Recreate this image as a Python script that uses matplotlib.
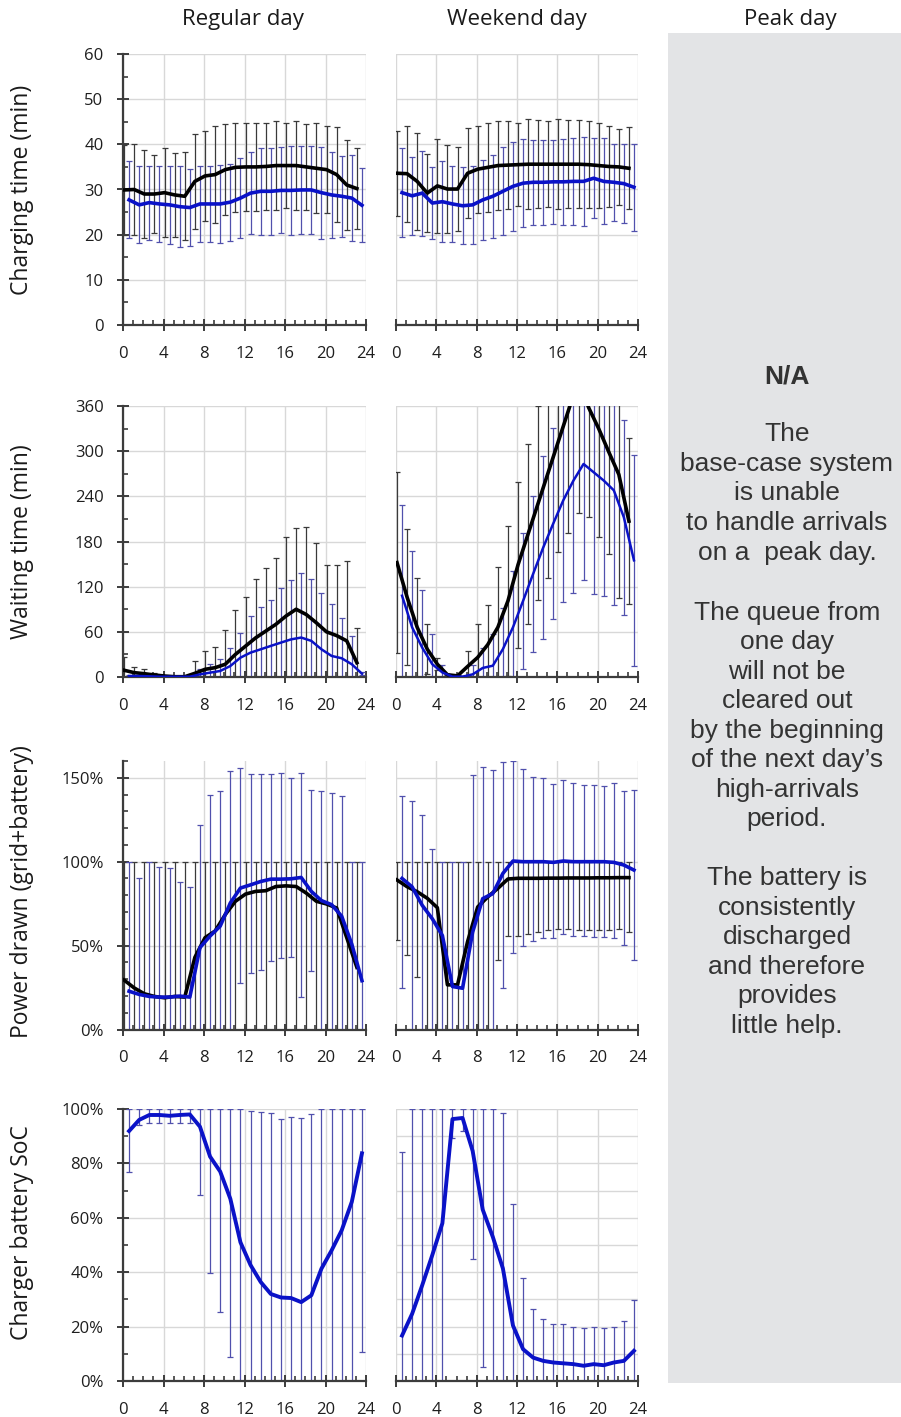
import numpy as np
import matplotlib
matplotlib.use('Agg')
import matplotlib.pyplot as plt
from matplotlib.ticker import MultipleLocator, FuncFormatter
from matplotlib.patches import Rectangle

hours = np.arange(24)

# charging time (min) - mean and std, black = grid only, blue = grid+battery
chg_reg_black = [29.9, 30.0, 29.0, 29.0, 29.3, 28.8, 28.5, 31.8, 33.0, 33.3, 34.4, 34.9,
                 35.0, 35.0, 35.1, 35.3, 35.3, 35.3, 35.0, 34.7, 34.4, 33.3, 31.0, 30.2]
chg_reg_black_sd = [10.0, 10.0, 9.8, 8.7, 9.9, 9.3, 9.7, 10.5, 10.0, 10.7, 10.0, 9.8,
                    9.7, 9.7, 9.6, 9.8, 9.5, 9.8, 9.5, 10.0, 9.7, 10.5, 10.0, 9.0]
chg_reg_blue = [27.7, 26.6, 27.1, 26.8, 26.6, 26.2, 26.0, 26.8, 26.8, 26.8, 27.2, 28.1,
                29.2, 29.6, 29.6, 29.8, 29.8, 29.9, 29.9, 29.3, 28.8, 28.5, 28.1, 26.5]
chg_reg_blue_sd = [8.5, 8.5, 8.2, 8.5, 8.7, 9.0, 8.5, 8.5, 8.5, 8.7, 8.5, 8.9,
                   9.0, 9.6, 9.6, 9.5, 9.9, 9.7, 9.7, 10.2, 9.6, 9.0, 9.6, 8.2]

chg_wkd_black = [33.6, 33.5, 31.8, 29.2, 30.8, 30.1, 30.1, 33.6, 34.5, 34.9, 35.3, 35.4,
                 35.5, 35.6, 35.6, 35.6, 35.6, 35.6, 35.6, 35.5, 35.3, 35.1, 35.0, 34.7]
chg_wkd_black_sd = [9.4, 10.6, 10.8, 8.6, 10.4, 9.8, 9.2, 10.0, 9.6, 9.8, 9.8, 9.7,
                    9.2, 9.9, 9.7, 9.5, 9.9, 9.7, 9.7, 9.6, 9.4, 9.0, 8.4, 9.1]
chg_wkd_blue = [29.3, 28.6, 29.2, 27.0, 27.3, 26.8, 26.4, 26.6, 27.7, 28.5, 29.6, 30.7,
                31.4, 31.6, 31.6, 31.7, 31.7, 31.8, 31.8, 32.5, 31.8, 31.6, 31.3, 30.5]
chg_wkd_blue_sd = [9.9, 8.7, 9.4, 7.9, 8.9, 8.5, 8.5, 8.7, 8.9, 9.2, 9.7, 9.9,
                   9.8, 9.4, 9.4, 9.3, 9.5, 9.7, 9.8, 8.8, 9.5, 8.5, 8.8, 9.6]

# waiting time (min)
wait_reg_black = [9.0, 5.8, 4.4, 2.7, 1.3, 0.4, 0.4, 4.9, 10.2, 12.4, 16.9, 30.0,
                  41.0, 52.0, 61.0, 70.0, 81.0, 90.0, 83.0, 72.0, 60.0, 55.0, 48.0, 19.0]
wait_reg_black_sd = [17, 7, 5.6, 3, 0.5, 0, 0, 17, 25, 27, 46, 59,
                     65, 78, 84, 88, 105, 108, 116, 106, 89, 94, 106, 46]
wait_reg_blue = [1.3, 1.3, 0.9, 0.4, 0.4, 0.4, 0.4, 3.5, 5.8, 8.0, 14.6, 25.7,
                 32.4, 36.8, 41.3, 45.7, 50.0, 52.4, 48.0, 36.8, 28.0, 24.9, 16.9, 4.4]
wait_reg_blue_sd = [2, 2, 1, 0.5, 0.5, 0.5, 0.5, 6.5, 11, 15.5, 24, 33,
                    48, 56, 61, 72, 79, 86, 82, 75, 69, 54, 38, 2]

wait_wkd_black = [152, 106, 66, 37, 17, 3, 1.5, 14, 26, 43, 66, 101,
                  149, 190, 231, 272, 313, 354, 395, 358, 330, 299, 269, 207]
wait_wkd_black_sd = [120, 90, 66, 33, 8, 1, 1, 20, 45, 53, 80, 100,
                     110, 120, 129, 140, 147, 163, 177, 146, 144, 136, 164, 110]
wait_wkd_blue = [108, 66, 39, 17, 6, 0.5, 0.5, 3.5, 12, 15, 37, 66,
                 101, 137, 172, 204, 235, 261, 283, 272, 261, 248, 212, 155]
wait_wkd_blue_sd = [120, 101, 77, 40, 10, 0.5, 1, 13, 26, 42, 55, 75,
                    90, 104, 122, 127, 136, 149, 154, 162, 154, 153, 130, 140]

# power drawn (%), mean with lower / upper bar ends
pow_reg_black = [29.5, 24.8, 21.3, 19.7, 18.9, 19.7, 19.3, 43.0, 54.7, 58.7, 68.5, 76.4,
                 80.7, 82.3, 82.7, 85.2, 85.6, 85.2, 81.3, 76.4, 74.8, 72.4, 54.7, 37.0]
pow_reg_black_lo = [0] * 24
pow_reg_black_hi = [100] * 24
pow_reg_blue = [22.8, 20.9, 19.7, 19.3, 19.3, 19.9, 19.3, 48.8, 55.7, 61.6, 75.4, 84.3,
                86.2, 88.2, 89.6, 89.6, 89.8, 90.6, 82.3, 76.8, 74.4, 67.5, 50.8, 29.1]
pow_reg_blue_lo = [0, 0, 0, 0, 0, 0, 0, 0, 0, 0, 0, 27.5,
                   33.5, 35.4, 41, 42.9, 43.5, 19.3, 35, 0, 0, 0, 0, 0]
pow_reg_blue_hi = [100, 90, 100, 97, 96, 88, 85, 122, 140, 142, 154, 156,
                   152, 152, 152, 152.6, 150, 152.6, 143, 142, 141, 139, 100, 100]

pow_wkd_black = [89.1, 85.1, 82.1, 78.2, 72.6, 26.6, 26.6, 52.4, 73.0, 79.0, 84.1, 89.7,
                 90.1, 90.1, 90.1, 90.2, 90.2, 90.3, 90.3, 90.3, 90.4, 90.4, 90.5, 90.5]
pow_wkd_black_lo = [53.4, 44.4, 31.0, 0, 0, 0, 0, 0, 0, 0, 41.5, 56,
                    56, 57, 58, 59, 60, 60, 59, 59, 59, 59, 60, 58]
pow_wkd_black_hi = [100] * 24
pow_wkd_blue = [90, 85, 74, 66, 56, 25.6, 24.6, 58, 78, 81, 93, 100.4,
                100, 100, 100, 99.6, 100.4, 100, 100, 100, 100, 99.6, 98, 95]
pow_wkd_blue_lo = [24.6, 0, 0, 0, 0, 0, 0, 0, 0, 0, 24.6, 45.4,
                   50, 52.8, 54.8, 54.8, 57, 56, 56, 55, 55, 54.8, 50.4, 41.5]
pow_wkd_blue_hi = [139, 136, 128, 107.5, 100, 100, 100, 151.6, 156.5, 154.6, 159.5, 160,
                   155, 150.6, 150, 146, 148.6, 146.6, 145.6, 145.6, 145, 146.6, 142, 143]

# charger battery state of charge (%)
soc_reg = [91.9, 96.0, 97.8, 97.8, 97.5, 97.8, 98.0, 93.5, 82.5, 77.0, 67.0, 51.0,
           42.6, 36.4, 32.0, 30.7, 30.5, 29.0, 31.5, 41.3, 48.0, 55.4, 65.9, 83.7]
soc_reg_lo = [76.7, 94, 95, 95, 95, 95, 95, 68.3, 39.8, 25.4, 8.8, 0,
              0, 0, 0, 0, 0, 0, 0, 0, 0, 0, 0, 10.7]
soc_reg_hi = [100, 100, 100, 100, 100, 100, 100, 100, 100, 100, 100, 100,
              99.3, 99.0, 98.4, 96.3, 97.2, 96.6, 98.0, 100, 100, 100, 100, 100]

soc_wkd = [16.7, 24.7, 35.2, 46.3, 58.0, 96.3, 96.7, 84.6, 63.0, 53.0, 41.4, 20.4,
           11.7, 8.6, 7.4, 6.8, 6.5, 6.2, 5.6, 6.2, 5.8, 6.8, 7.4, 11.1]
soc_wkd_lo = [0, 0, 0, 0, 0, 89.5, 92.0, 44.8, 5.3, 0, 0, 0,
              0, 0, 0, 0, 0, 0, 0, 0, 0, 0, 0, 0]
soc_wkd_hi = [84.3, 100, 100, 100, 100, 100, 100, 100, 100, 100, 98.4, 65.0,
              37.7, 26.5, 22.8, 21.0, 21.0, 19.8, 19.4, 20.0, 19.4, 20.0, 21.9, 29.6]

col_titles = ['Regular day', 'Weekend day', 'Peak day']
row_labels = ['Charging time (min)', 'Waiting time (min)',
              'Power drawn (grid+battery)', 'Charger battery SoC']

peak_na = 'N/A'
peak_text = ['The\nbase-case system\nis unable\nto handle arrivals\non a  peak day.',
             'The queue from\none day\nwill not be\ncleared out\nby the beginning\n'
             'of the next day\u2019s\nhigh-arrivals\nperiod.',
             'The battery is\nconsistently\ndischarged\nand therefore\nprovides\nlittle help.']

plt.rcParams['font.family'] = ['Open Sans', 'DejaVu Sans']

W, H = 901, 1417
fig = plt.figure(figsize=(W / 100, H / 100), dpi=100)

BLACK_ERR = '#3a3a3a'
BLUE_ERR = '#5050ad'
BLUE = '#0a12c8'
XB, XL = hours + 0.1, hours + 0.6   # black / blue positions within the hour


def px_axes(left, top, right, bottom):
    return fig.add_axes([left / W, 1 - bottom / H, (right - left) / W, (bottom - top) / H])


def style(ax, ymax, major, minor, pct=False, show_y=True, grid_minor=False):
    ax.set_xlim(0, 24)
    ax.set_ylim(0, ymax)
    ax.xaxis.set_major_locator(MultipleLocator(4))
    ax.xaxis.set_minor_locator(MultipleLocator(1))
    ax.yaxis.set_major_locator(MultipleLocator(major))
    ax.yaxis.set_minor_locator(MultipleLocator(minor))
    if pct:
        ax.yaxis.set_major_formatter(FuncFormatter(lambda v, p: f'{v:.0f}%'))
    ax.spines['top'].set_visible(False)
    ax.spines['right'].set_visible(False)
    ax.spines['bottom'].set_color('#3c3c3c')
    ax.spines['bottom'].set_linewidth(1.6)
    ax.set_axisbelow(True)
    ax.grid(True, which='major', color='#d8d8d8', lw=1.0)
    if grid_minor:
        ax.grid(True, which='minor', axis='y', color='#d8d8d8', lw=1.0)
    ax.tick_params(axis='x', which='major', direction='inout', length=8, width=1.4,
                   color='#3c3c3c', labelcolor='#1e1e1e', labelsize=12, pad=11)
    ax.tick_params(axis='x', which='minor', direction='in', length=3.5, width=1.2,
                   color='#3c3c3c')
    if show_y:
        ax.spines['left'].set_color('#3c3c3c')
        ax.spines['left'].set_linewidth(1.6)
        ax.tick_params(axis='y', which='major', direction='inout', length=9, width=1.4,
                       color='#3c3c3c', labelcolor='#1e1e1e', labelsize=12, pad=9.5)
        ax.tick_params(axis='y', which='minor', direction='in', length=3.5, width=1.2,
                       color='#3c3c3c')
    else:
        ax.spines['left'].set_visible(False)
        ax.tick_params(axis='y', which='both', left=False, labelleft=False)


def series(ax, x, y, yerr, line_c, err_c, lw):
    ax.errorbar(x, y, yerr=yerr, fmt='none', ecolor=err_c, elinewidth=0.9,
                capsize=2.2, capthick=0.9, zorder=2)
    ax.plot(x, y, color=line_c, lw=lw, zorder=4, solid_joinstyle='round')


def bounds(y, lo, hi):
    return [np.subtract(y, lo), np.subtract(hi, y)]


cols = [(123, 366), (396, 638)]
rows = [(54, 325), (406, 677), (761, 1029.5), (1109, 1381)]

# row 1: charging time
for c, (bk, bk_sd, bl, bl_sd) in enumerate([
        (chg_reg_black, chg_reg_black_sd, chg_reg_blue, chg_reg_blue_sd),
        (chg_wkd_black, chg_wkd_black_sd, chg_wkd_blue, chg_wkd_blue_sd)]):
    ax = px_axes(cols[c][0], rows[0][0], cols[c][1], rows[0][1])
    style(ax, 60, 10, 5, show_y=(c == 0))
    series(ax, XB, bk, bk_sd, 'black', BLACK_ERR, 2.6)
    series(ax, XL, bl, bl_sd, BLUE, BLUE_ERR, 2.6)

# row 2: waiting time
for c, (bk, bk_sd, bl, bl_sd) in enumerate([
        (wait_reg_black, wait_reg_black_sd, wait_reg_blue, wait_reg_blue_sd),
        (wait_wkd_black, wait_wkd_black_sd, wait_wkd_blue, wait_wkd_blue_sd)]):
    ax = px_axes(cols[c][0], rows[1][0], cols[c][1], rows[1][1])
    style(ax, 360, 60, 30, show_y=(c == 0))
    series(ax, XB, bk, bk_sd, 'black', BLACK_ERR, 2.6)
    series(ax, XL, bl, bl_sd, BLUE, BLUE_ERR, 1.8)

# row 3: power drawn
for c, (bk, bk_lo, bk_hi, bl, bl_lo, bl_hi) in enumerate([
        (pow_reg_black, pow_reg_black_lo, pow_reg_black_hi, pow_reg_blue, pow_reg_blue_lo, pow_reg_blue_hi),
        (pow_wkd_black, pow_wkd_black_lo, pow_wkd_black_hi, pow_wkd_blue, pow_wkd_blue_lo, pow_wkd_blue_hi)]):
    ax = px_axes(cols[c][0], rows[2][0], cols[c][1], rows[2][1])
    style(ax, 160, 50, 10, pct=True, show_y=(c == 0))
    series(ax, XB, bk, bounds(bk, bk_lo, bk_hi), 'black', BLACK_ERR, 2.6)
    series(ax, XL, bl, bounds(bl, bl_lo, bl_hi), BLUE, BLUE_ERR, 2.6)

# row 4: battery SoC
for c, (bl, bl_lo, bl_hi) in enumerate([(soc_reg, soc_reg_lo, soc_reg_hi),
                                        (soc_wkd, soc_wkd_lo, soc_wkd_hi)]):
    ax = px_axes(cols[c][0], rows[3][0], cols[c][1], rows[3][1])
    style(ax, 100, 20, 10, pct=True, show_y=(c == 0), grid_minor=(c == 1))
    series(ax, XL, bl, bounds(bl, bl_lo, bl_hi), BLUE, BLUE_ERR, 2.8)

# column titles and row labels
for x_px, t in zip([243, 517, 790], col_titles):
    fig.text(x_px / W, 1 - 20 / H, t, ha='center', va='center', fontsize=16, color='#1a1a1a')
for y_px, t in zip([190, 542, 892, 1233], row_labels):
    fig.text(22 / W, 1 - y_px / H, t, ha='center', va='center', rotation=90,
             fontsize=16.5, color='#1a1a1a')

# peak day panel
fig.patches.append(Rectangle((668 / W, 1 - 1383 / H), (W - 668) / W, (1383 - 33) / H,
                             transform=fig.transFigure, facecolor='#e3e4e6',
                             edgecolor='none', zorder=0))
box_font = ['Liberation Sans', 'DejaVu Sans']
fig.text(787 / W, 1 - 377 / H, peak_na, ha='center', va='center', fontsize=19,
         fontweight='bold', color='#333333', family=box_font)
for y_px, t in zip([493.5, 716, 952], peak_text):
    fig.text(787 / W, 1 - y_px / H, t, ha='center', va='center', multialignment='center',
             fontsize=19, linespacing=1.29, color='#333333', family=box_font)

plt.savefig('out.png', dpi=100)
